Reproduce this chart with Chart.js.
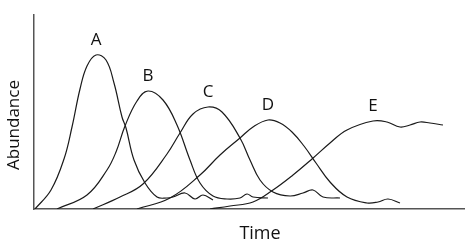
<!DOCTYPE html>
<html>
<head>
<meta charset="utf-8">
<script src="https://cdn.jsdelivr.net/npm/chart.js@4/dist/chart.umd.min.js"></script>
<style>
  html, body { margin: 0; padding: 0; background: #fff; }
  canvas { display: block; }
</style>
</head>
<body>
<canvas id="succession" width="474" height="246"></canvas>
<script>
//---------------------DATA---------------------//
const seriesNames = ["A", "B", "C", "D", "E"];

const timeA = [1, 17, 30, 38, 46, 53, 62, 72, 80, 88, 92, 100, 111, 123, 133, 139, 151, 161, 169, 179];
const abundA = [0, 19, 50, 82, 120, 143, 154, 149, 126, 92, 81, 49, 26, 12, 11, 12, 16, 10, 14, 9];

const timeB = [23, 53, 73, 82, 91, 103, 114, 129, 143, 156, 166, 179, 193, 206, 213, 219, 234];
const abundB = [0, 14, 39, 57, 83, 108, 118, 109, 84, 49, 26, 13, 10, 11, 15, 12, 11];

const timeC = [59, 86, 109, 133, 146, 159, 174, 188, 206, 216, 226, 239, 256, 269, 279, 289, 306];
const abundC = [0, 12, 25, 55, 76, 95, 102, 97, 71, 49, 29, 17, 13, 16, 19, 12, 11];

const timeD = [103, 136, 166, 186, 206, 219, 234, 246, 258, 270, 282, 296, 313, 333, 344, 354, 366];
const abundD = [0, 11, 34, 54, 71, 82, 89, 86, 77, 63, 46, 27, 12, 6, 7, 10, 6];

const timeE = [176, 196, 219, 239, 259, 278, 296, 313, 339, 353, 366, 376, 386, 396, 409];
const abundE = [0, 3, 7, 19, 34, 50, 66, 79, 88, 87, 82, 84, 87, 86, 84];

const xTitle = "Time";
const yTitle = "Abundance";

//---------------------HELPERS---------------------//
const allTimes = [timeA, timeB, timeC, timeD, timeE];
const allAbund = [abundA, abundB, abundC, abundD, abundE];

function toPoints(xs, ys) {
  return xs.map((x, i) => ({ x: x, y: ys[i] }));
}

const FONT = "'Open Sans', 'Noto Sans', sans-serif";

// draws the A-E labels over each peak and the two axis titles
const labelPlugin = {
  id: 'curveLabels',
  afterDraw(chart) {
    const ctx = chart.ctx;
    const area = chart.chartArea;
    ctx.save();
    ctx.fillStyle = '#111';
    ctx.font = '17px ' + FONT;
    ctx.textAlign = 'center';
    ctx.textBaseline = 'middle';

    chart.data.datasets.forEach((ds, i) => {
      let peak = ds.data[0];
      ds.data.forEach(p => { if (p.y > peak.y) peak = p; });
      const px = chart.scales.x.getPixelForValue(peak.x);
      const py = chart.scales.y.getPixelForValue(peak.y);
      ctx.fillText(seriesNames[i], px, py - 15);
    });

    ctx.font = '18px ' + FONT;
    ctx.fillText(xTitle, (area.left + area.right) / 2 + 11, area.bottom + 25);

    ctx.font = '17px ' + FONT;
    ctx.translate(area.left - 20, area.top + 110);
    ctx.rotate(-Math.PI / 2);
    ctx.fillText(yTitle, 0, 0);
    ctx.restore();
  }
};

//---------------------CHART---------------------//
const canvas = document.getElementById('succession');

new Chart(canvas, {
  type: 'line',
  data: {
    datasets: seriesNames.map((name, i) => ({
      label: name,
      data: toPoints(allTimes[i], allAbund[i]),
      borderColor: '#1a1a1a',
      borderWidth: 1.2,
      pointRadius: 0,
      fill: false,
      tension: 0.4
    }))
  },
  options: {
    responsive: false,
    animation: false,
    devicePixelRatio: 1,
    layout: { padding: { left: 34, top: 15, right: 10, bottom: 37 } },
    plugins: {
      legend: { display: false },
      tooltip: { enabled: false }
    },
    scales: {
      x: {
        type: 'linear',
        min: 0,
        max: 430,
        grid: { display: false, drawTicks: false },
        ticks: { display: false },
        border: { display: true, color: '#555', width: 1.5 }
      },
      y: {
        type: 'linear',
        min: 0,
        max: 194,
        grid: { display: false, drawTicks: false },
        ticks: { display: false },
        border: { display: true, color: '#555', width: 1.5 }
      }
    }
  },
  plugins: [labelPlugin]
});
</script>
</body>
</html>
